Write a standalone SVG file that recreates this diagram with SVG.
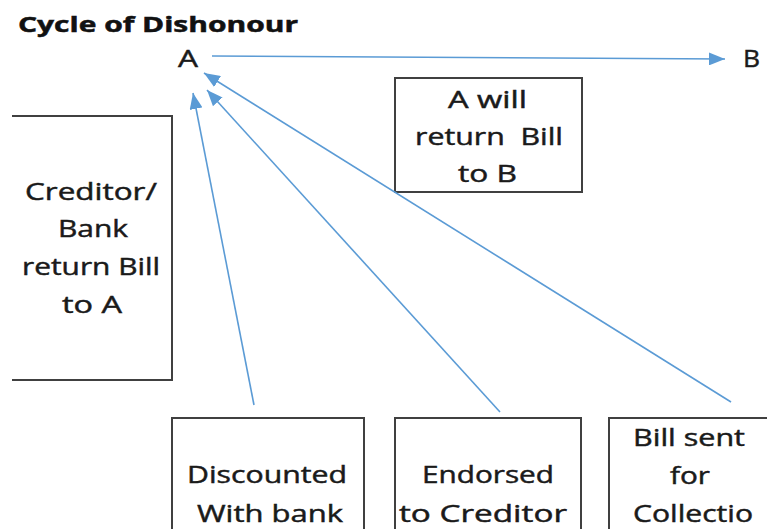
<svg xmlns="http://www.w3.org/2000/svg" width="767" height="529" viewBox="0 0 767 529">
<style>
.t{font-family:"Open Sans","Liberation Sans",sans-serif;font-size:23px;fill:#1a1a1a;stroke:#1a1a1a;stroke-width:0.45}
.title{font-family:"Open Sans","Liberation Sans",sans-serif;font-size:22px;font-weight:bold;fill:#111;stroke:#111;stroke-width:0.5}
.box{fill:none;stroke:#404040;stroke-width:2}
.conn{stroke:#5B9BD5;stroke-width:1.6;fill:none;marker-end:url(#ah)}
</style>
<defs>
<marker id="ah" markerUnits="userSpaceOnUse" markerWidth="17" markerHeight="13" refX="16" refY="6.5" orient="auto">
<path d="M0,0 L16,6.5 L0,13 z" fill="#5B9BD5"/>
</marker>
</defs>
<rect width="767" height="529" fill="#fff"/>
<text class="title" x="18" y="32" textLength="280" lengthAdjust="spacingAndGlyphs">Cycle of Dishonour</text>
<g id="nodeA"><text class="t" x="178" y="67" textLength="20" lengthAdjust="spacingAndGlyphs">A</text></g>
<g id="nodeB"><text class="t" x="743" y="67" textLength="17" lengthAdjust="spacingAndGlyphs">B</text></g>
<g id="returnToB">
<rect class="box" x="395" y="78" width="187" height="114"/>
<text class="t" x="448" y="108" textLength="79" lengthAdjust="spacingAndGlyphs">A will</text>
<text class="t" x="415" y="145" textLength="148" lengthAdjust="spacingAndGlyphs" xml:space="preserve">return  Bill</text>
<text class="t" x="458" y="182" textLength="59" lengthAdjust="spacingAndGlyphs">to B</text>
</g>
<g id="returnToA">
<path class="box" d="M12,116 H172 V380 H12"/>
<text class="t" x="25" y="200" textLength="132" lengthAdjust="spacingAndGlyphs">Creditor/</text>
<text class="t" x="58" y="237" textLength="70" lengthAdjust="spacingAndGlyphs">Bank</text>
<text class="t" x="22" y="275" textLength="138" lengthAdjust="spacingAndGlyphs">return Bill</text>
<text class="t" x="62" y="313" textLength="60" lengthAdjust="spacingAndGlyphs">to A</text>
</g>
<g id="discounted">
<rect class="box" x="172" y="418" width="192" height="130"/>
<text class="t" x="187" y="483" textLength="160" lengthAdjust="spacingAndGlyphs">Discounted</text>
<text class="t" x="197" y="522" textLength="146" lengthAdjust="spacingAndGlyphs">With bank</text>
</g>
<g id="endorsed">
<rect class="box" x="395" y="418" width="186" height="130"/>
<text class="t" x="422" y="483" textLength="132" lengthAdjust="spacingAndGlyphs">Endorsed</text>
<text class="t" x="399" y="522" textLength="168" lengthAdjust="spacingAndGlyphs">to Creditor</text>
</g>
<g id="collection">
<rect class="box" x="609" y="418" width="170" height="130"/>
<text class="t" x="633" y="446" textLength="112" lengthAdjust="spacingAndGlyphs">Bill sent</text>
<text class="t" x="670" y="484" textLength="40" lengthAdjust="spacingAndGlyphs">for</text>
<text class="t" x="633" y="522" textLength="120" lengthAdjust="spacingAndGlyphs">Collectio</text>
</g>
<g id="connectors">
<line class="conn" x1="212" y1="56" x2="725" y2="59"/>
<line class="conn" x1="254" y1="405" x2="193" y2="93"/>
<line class="conn" x1="500" y1="412" x2="207" y2="90"/>
<line class="conn" x1="731" y1="402" x2="204" y2="73"/>
</g>
</svg>
